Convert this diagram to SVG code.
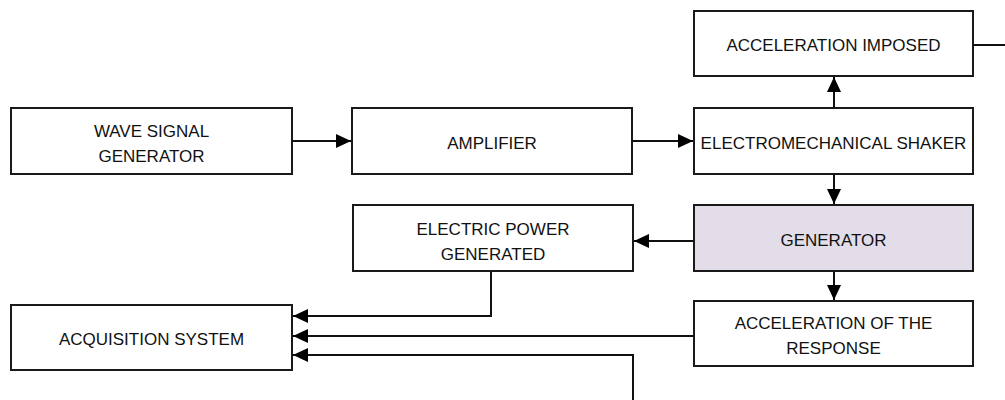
<svg xmlns="http://www.w3.org/2000/svg" width="1005" height="400" viewBox="0 0 1005 400">
<style>
.box{fill:#fff;stroke:#1a1a1a;stroke-width:2}
.gen{fill:#e3dde9}
text{font-family:"Liberation Sans",Arial,sans-serif;font-size:17px;fill:#111;text-anchor:middle;dominant-baseline:central}
.c{fill:none;stroke:#111;stroke-width:2}
</style>
<defs>
<marker id="ah" viewBox="0 0 15 14" refX="15" refY="7" markerWidth="15" markerHeight="14" markerUnits="userSpaceOnUse" orient="auto">
<path d="M0,0 L15,7 L0,14 Z" fill="#000"/>
</marker>
</defs>
<rect width="1005" height="400" fill="#fff"/>
<g id="accel-imposed"><rect class="box" x="694" y="11" width="279" height="65"/><text x="833.5" y="45">ACCELERATION IMPOSED</text></g>
<g id="wave-signal-generator"><rect class="box" x="11" y="108" width="281" height="66"/><text x="151.5" y="131">WAVE SIGNAL</text><text x="151.5" y="156">GENERATOR</text></g>
<g id="amplifier"><rect class="box" x="352" y="108" width="280" height="66"/><text x="492" y="143">AMPLIFIER</text></g>
<g id="shaker"><rect class="box" x="694" y="108" width="279" height="66"/><text x="833.5" y="143">ELECTROMECHANICAL SHAKER</text></g>
<g id="generator"><rect class="box gen" x="694" y="205" width="279" height="66"/><text x="833.5" y="240">GENERATOR</text></g>
<g id="electric-power"><rect class="box" x="353" y="205" width="280" height="66"/><text x="493" y="229">ELECTRIC POWER</text><text x="493" y="254">GENERATED</text></g>
<g id="accel-response"><rect class="box" x="694" y="301" width="279" height="65"/><text x="833.5" y="323">ACCELERATION OF THE</text><text x="833.5" y="348">RESPONSE</text></g>
<g id="acquisition"><rect class="box" x="11" y="305" width="281" height="65"/><text x="151.5" y="339">ACQUISITION SYSTEM</text></g>
<g id="connectors">
<path class="c" d="M973,45 H1005"/>
<path class="c" d="M292,141 H351" marker-end="url(#ah)"/>
<path class="c" d="M632,141 H693" marker-end="url(#ah)"/>
<path class="c" d="M834,108 V77" marker-end="url(#ah)"/>
<path class="c" d="M834,174 V204" marker-end="url(#ah)"/>
<path class="c" d="M694,241 H634" marker-end="url(#ah)"/>
<path class="c" d="M834,271 V300" marker-end="url(#ah)"/>
<path class="c" d="M491,271 V316 H293" marker-end="url(#ah)"/>
<path class="c" d="M694,336 H293" marker-end="url(#ah)"/>
<path class="c" d="M633,400 V355 H293" marker-end="url(#ah)"/>
</g>
</svg>
